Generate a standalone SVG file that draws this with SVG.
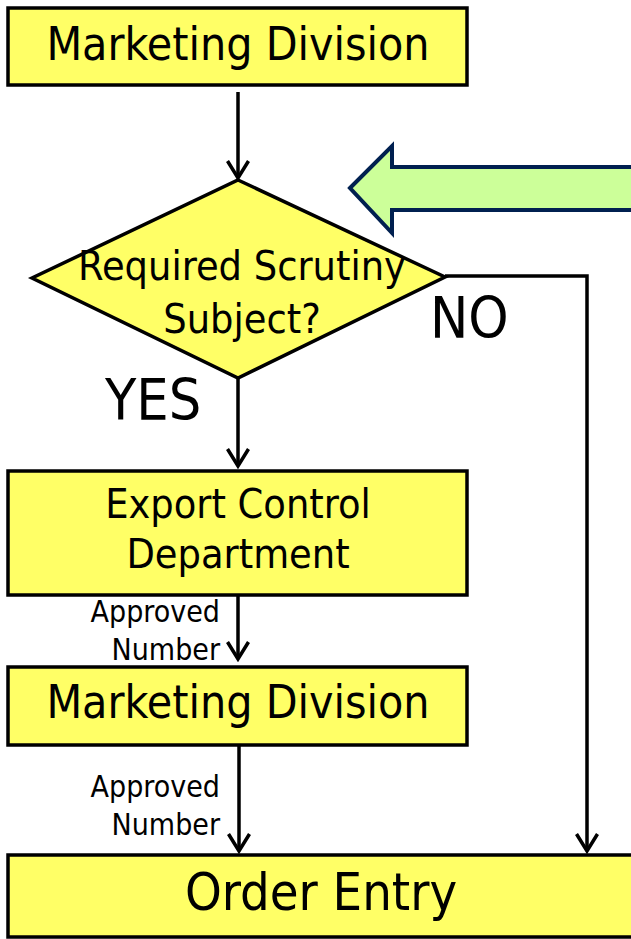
<svg xmlns="http://www.w3.org/2000/svg" width="631" height="939" viewBox="0 0 631 939">
<style>
.box{fill:#ffff66;stroke:#000;stroke-width:3.5}
.t{font-family:"DejaVu Sans Condensed","Liberation Sans Narrow","DejaVu Sans",sans-serif;fill:#000}
.c{text-anchor:middle}
.r{text-anchor:end}
.ln{fill:none;stroke:#000;stroke-width:3.5}
</style>
<defs>
<marker id="ah" viewBox="0 0 24 24" refX="21" refY="12" markerWidth="24" markerHeight="24" markerUnits="userSpaceOnUse" orient="auto">
<path d="M4,1.5 L21,12 L4,22.5" fill="none" stroke="#000" stroke-width="3.5"/>
</marker>
</defs>
<g id="big-arrow">
<path d="M350,188 L392,146 L392,167 L640,167 L640,210 L392,210 L392,233 Z" fill="#ccff99" stroke="#002050" stroke-width="4" stroke-linejoin="miter"/>
</g>
<g id="connectors">
<path class="ln" d="M238,92 L238,178" marker-end="url(#ah)"/>
<path class="ln" d="M238,378 L238,466" marker-end="url(#ah)"/>
<path class="ln" d="M238,596 L238,659" marker-end="url(#ah)"/>
<path class="ln" d="M239,746 L239,851" marker-end="url(#ah)"/>
<path class="ln" d="M445,276 L587,276 L587,851" marker-end="url(#ah)"/>
</g>
<g id="n1">
<rect class="box" x="8" y="8" width="459" height="77"/>
<text class="t c" x="238" y="60" font-size="46">Marketing Division</text>
</g>
<g id="n2">
<path class="box" d="M238,180 L445,277 L238,378 L32,278 Z"/>
<text class="t c" x="242" y="280" font-size="41">Required Scrutiny</text>
<text class="t c" x="242" y="333" font-size="41">Subject?</text>
</g>
<g id="n3">
<rect class="box" x="8" y="471" width="459" height="124"/>
<text class="t c" x="238" y="518" font-size="41">Export Control</text>
<text class="t c" x="238" y="568" font-size="41">Department</text>
</g>
<g id="n4">
<rect class="box" x="8" y="667" width="459" height="78"/>
<text class="t c" x="238" y="718" font-size="46">Marketing Division</text>
</g>
<g id="n5">
<rect class="box" x="8" y="855" width="630" height="82"/>
<text class="t c" x="321" y="910" font-size="52">Order Entry</text>
</g>
<g id="labels">
<text class="t" x="105" y="420" font-size="57">YES</text>
<text class="t" x="430" y="338" font-size="57">NO</text>
<text class="t r" x="220" y="622" font-size="30">Approved</text>
<text class="t r" x="220" y="660" font-size="30">Number</text>
<text class="t r" x="220" y="797" font-size="30">Approved</text>
<text class="t r" x="220" y="835" font-size="30">Number</text>
</g>
</svg>
